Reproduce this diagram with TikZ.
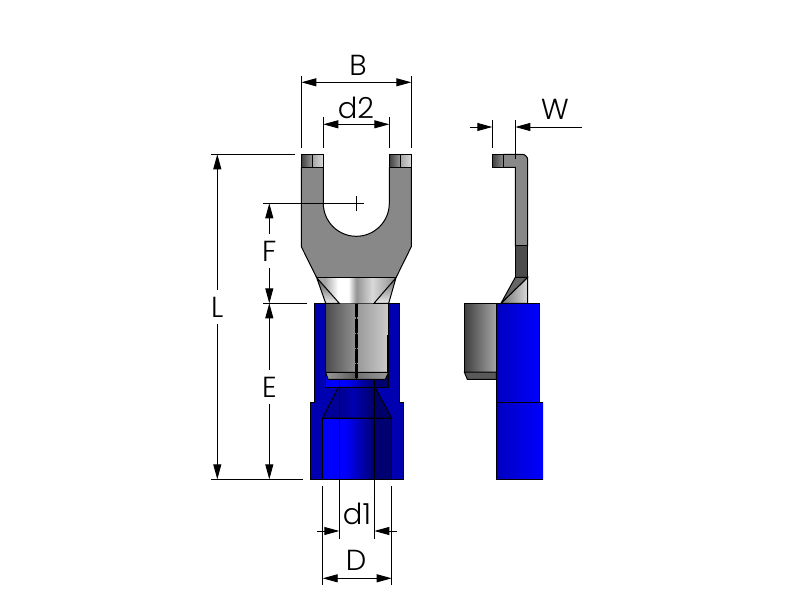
\documentclass[tikz,border=0pt]{standalone}
\usepackage{fontspec}
\setmainfont{Poppins Light}
\usetikzlibrary{arrows.meta}
\definecolor{forkgray}{RGB}{136,136,136}
\definecolor{sidegray}{RGB}{0,0,176}
\pgfdeclarehorizontalshading{flareshade}{100bp}{color(0bp)=(black!35); color(30bp)=(black!35); color(38.5bp)=(white); color(45bp)=(white);
    color(50bp)=(black!42); color(60bp)=(black!15); color(72.5bp)=(black!40); color(100bp)=(black!40)}
\pgfdeclarehorizontalshading{boreshade}{100bp}{color(0bp)=(blue); color(41bp)=(blue); color(62bp)=(blue!45!black); color(100bp)=(blue!42!black)}
\pgfdeclarehorizontalshading{funnelshade}{100bp}{color(0bp)=(blue!60!black); color(41bp)=(blue!60!black); color(47bp)=(blue!70!black); color(62bp)=(blue!42!black); color(100bp)=(blue!42!black)}
\tikzset{
>={Triangle[length=15pt,width=8pt]},
every node/.style={font=\fontsize{29}{29}\selectfont,inner ysep=7pt},
dim/.style={thin,black,line width=.9pt},
outline/.style={draw=black,line width=1pt},
sleeve/.style={outline,fill=sidegray},
}

\begin{document}
\begin{tikzpicture}[x=1pt,y=-1pt]
    \useasboundingbox (0,0) rectangle (792,612);

    % front view, sleeve
    \path[sleeve] (314.3,303.3) -- (399.7,303.3) -- (399.7,402.3) -- (403.7,402.3) -- (403.7,479.3)
        -- (310.3,479.3) -- (310.3,402.3) -- (314.3,402.3) -- cycle;
    \path[outline,shading=boreshade] (325.7,372) rectangle (388.7,387.3);
    \path[outline,shading=funnelshade] (338.3,387.3) -- (375,387.3) -- (391.7,418) -- (322.7,418) -- cycle;
    \path[outline,shading=boreshade] (322.7,418) rectangle (391.7,479.3);

    % front view, barrel
    \path[outline,left color=black!70,middle color=black!68,right color=black!42] (325.7,303.3) rectangle (356.7,372.3);
    \path[outline,left color=black!40,right color=black!20] (356.7,303.3) rectangle (388.7,372.3);
    \path[outline,left color=black!40,right color=black!65] (325.7,372.3) -- (356.7,372.3) -- (356.7,379.3) -- (328,379.3) -- cycle;
    \path[outline,left color=black!55,right color=black!40] (356.7,372.3) -- (388.7,372.3) -- (385.3,379.3) -- (356.7,379.3) -- cycle;
    \draw[line width=2.8pt,dash pattern=on 14pt off 1.2pt] (356.7,303.3) -- (356.7,379.3);
    \draw[line width=1.8pt] (388.2,335) -- (388.2,372);
    \draw[line width=1pt] (339.3,379.3) -- (339.3,479.3) (374.3,379.3) -- (374.3,479.3);

    % front view, fork
    \path[outline,fill=forkgray] (301.3,167.3) -- (323.3,167.3) -- (323.3,203.3) arc[start angle=180,end angle=0,radius=33]
        -- (389.3,167.3) -- (411.3,167.3) -- (411.3,246.7) -- (396,277.7) -- (316.7,277.7) -- (301.3,246.7) -- cycle;
    \path[outline,left color=black!75,right color=black!40] (301.3,154.3) rectangle (312.3,167.3);
    \path[outline,left color=black!35,right color=black!15] (312.3,154.3) rectangle (323.3,167.3);
    \path[outline,left color=black!75,right color=black!40] (389.3,154.3) rectangle (400.3,167.3);
    \path[outline,left color=black!35,right color=black!15] (400.3,154.3) rectangle (411.3,167.3);

    % front view, flare
    \path[shading=flareshade] (316.7,277.7) -- (396,277.7) -- (374,303.3) -- (339.3,303.3) -- cycle;
    \draw[line width=1pt] (316.7,277.7) -- (396,277.7);
    \path[outline,top color=black!70,bottom color=black!8] (316.7,277.7) -- (339.3,303.3) -- (325.7,303.3) -- cycle;
    \path[outline,top color=black!60,bottom color=black!8] (396,277.7) -- (388.7,303.3) -- (374,303.3) -- cycle;

    % side view
    \path[outline,left color=black!75,right color=black!35] (464.3,303.3) rectangle (496.3,372);
    \path[outline,fill=black!65] (464.3,372) -- (496.3,372) -- (496.3,379.3) -- (467.3,379.3) -- cycle;
    \path[outline,left color=blue!75!black,right color=blue] (496.3,303.3) rectangle (539.7,402.3);
    \path[left color=blue!75!black,middle color=blue,right color=blue] (496.3,402.3) rectangle (543,479.3);
    \draw[line width=1pt] (543,402.3) -- (496.3,402.3) -- (496.3,479.3) -- (543,479.3);
    \path[outline,fill=forkgray] (503.3,154.3) -- (522,154.3) arc[start angle=-90,end angle=0,radius=5.7] -- (527.7,246)
        -- (515.3,246) -- (515.3,167.3) -- (503.3,167.3) -- cycle;
    \path[outline,left color=black!75,right color=black!45] (492.3,154.3) rectangle (503.3,167.3);
    \path[outline,fill=black!70] (515.3,246) rectangle (527.7,277.3);
    \path[outline,left color=black!55,right color=black!15] (527.7,277.3) -- (527.7,303.3) -- (501,303.3) -- cycle;
    \path[outline,fill=black!60] (515.3,277.3) -- (527.7,277.3) -- (501,303.3) -- cycle;

    % dimension ends
    \coordinate (Ba) at (301.3,82.3);
    \coordinate (Bb) at (411.3,82.3);
    \coordinate (d2a) at (323.3,124.3);
    \coordinate (d2b) at (389.3,124.3);
    \coordinate (La) at (217.3,154.3);
    \coordinate (Lb) at (217.3,479.3);
    \coordinate (Fa) at (269.3,203.3);
    \coordinate (Fb) at (269.3,303.3);
    \coordinate (Eb) at (269.3,479.3);
    \coordinate (d1a) at (339.3,531);
    \coordinate (d1b) at (374.3,531);
    \coordinate (Da) at (322.7,578.3);
    \coordinate (Db) at (391.7,578.3);
    \coordinate (Wa) at (492.3,127);
    \coordinate (Wb) at (515.3,127);

    % labels
    \node (B) at (358,65) {B};
    \node (d2) at (356,108) {d2};
    \node (F) at (269.3,251) {F};
    \node (L) at (217.3,307) {L};
    \node (E) at (269.3,387) {E};
    \node (d1) at (357,514) {d1};
    \node (D) at (356,560) {D};
    \node (W) at (555,109) {W};

    % extension lines
    \draw[dim] (301.3,76) -- (301.3,148) (411.3,76) -- (411.3,148);
    \draw[dim] (323.3,117) -- (323.3,148) (389.3,117) -- (389.3,148);
    \draw[dim] (211,154.3) -- (295,154.3) (211,479.3) -- (303,479.3);
    \draw[dim] (263,203.3) -- (364,203.3) (356.3,196.5) -- (356.3,211);
    \draw[dim] (263,303.3) -- (307,303.3);
    \draw[dim] (339.3,479.3) -- (339.3,538.5) (374.3,479.3) -- (374.3,538.5);
    \draw[dim] (322.7,486) -- (322.7,585) (391.7,486) -- (391.7,585);
    \draw[dim] (492.3,120) -- (492.3,148) (515.3,120) -- (515.3,159);

    % dimensions
    \draw[dim,<->] (Ba) -- (Bb);
    \draw[dim,<->] (d2a) -- (d2b);
    \draw[dim,->] (La |- L.north) -- (La);
    \draw[dim,->] (La |- L.south) -- (Lb);
    \draw[dim,->] (Fa |- F.north) -- (Fa);
    \draw[dim,->] (Fa |- F.south) -- (Fb);
    \draw[dim,->] (Fa |- E.north) -- (Fb);
    \draw[dim,->] (Fa |- E.south) -- (Eb);
    \draw[dim,->] ([xshift=-22pt]d1a) -- (d1a);
    \draw[dim,->] ([xshift=23pt]d1b) -- (d1b);
    \draw[dim,<->] (Da) -- (Db);
    \draw[dim,->] ([xshift=-22pt]Wa) -- (Wa);
    \draw[dim,->] ([xshift=66.5pt]Wb) -- (Wb);
\end{tikzpicture}
\end{document}
